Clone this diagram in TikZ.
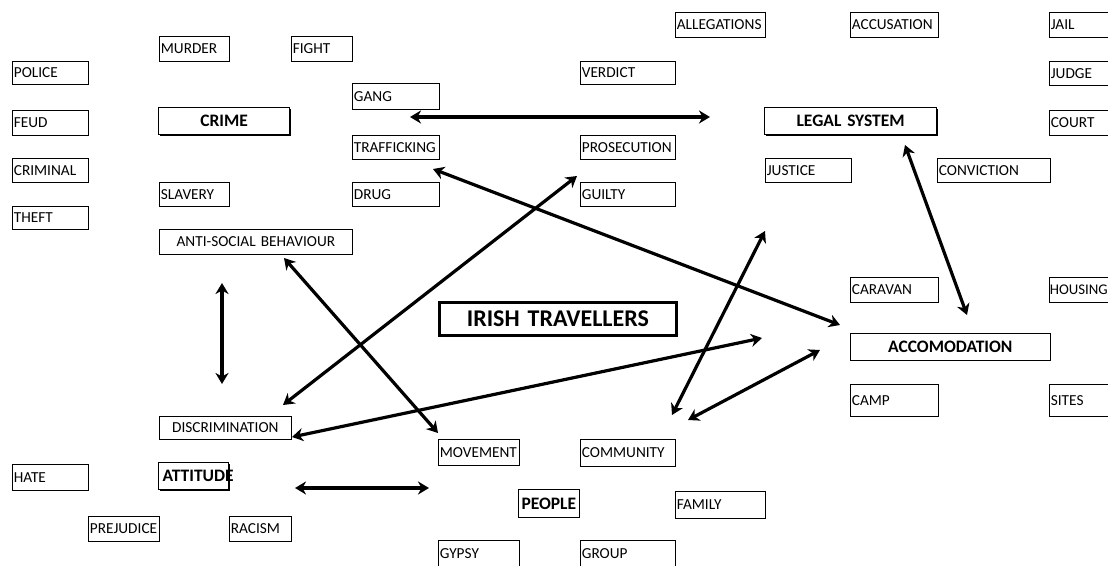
\documentclass[tikz,border=0pt]{standalone}
\usepackage{fontspec}
\setmainfont{Carlito}[WordSpace=0.7]
\usetikzlibrary{arrows.meta,shadows}

\begin{document}
\begin{tikzpicture}[x=1pt,y=-1pt,
    word/.style={draw, fill=white, line width=0.7pt, anchor=north west,
      inner xsep=1.5pt, inner ysep=0pt, align=left,
      font=\fontsize{15.3}{17}\selectfont,
      general shadow={fill=black, shadow xshift=0.9pt, shadow yshift=-0.9pt}},
    topic/.style={word, line width=1.2pt, align=center, font=\fontsize{17.5}{19}\selectfont\bfseries},
    link/.style={line width=3.2pt, <->, >={Stealth[length=11pt,width=13pt,inset=3.5pt]}}]
  \clip (0,0) rectangle (1108,565);
  \fill[white] (0,0) rectangle (1108,565);

  % crime
  \node[word, text width=73pt, minimum height=23pt] (police) at (12,61) {POLICE};
  \node[word, text width=73pt, minimum height=25pt] (feud) at (12,110) {FEUD};
  \node[word, text width=73pt, minimum height=24pt] (criminal) at (12,158) {CRIMINAL};
  \node[word, text width=73pt, minimum height=23pt] (theft) at (12,206) {THEFT};
  \node[word, text width=67pt, minimum height=25pt] (murder) at (159,36) {MURDER};
  \node[word, text width=58pt, minimum height=25pt] (fight) at (291,36) {FIGHT};
  \node[topic, text width=128pt, minimum height=27pt] (crime) at (158,107) {CRIME};
  \node[word, text width=67pt, minimum height=24pt] (slavery) at (159,182) {SLAVERY};
  \node[word, align=center, text width=190pt, minimum height=25pt] (antisocial) at (159,229) {ANTI-SOCIAL BEHAVIOUR};
  \node[word, text width=84pt, minimum height=26pt] (gang) at (352,83) {GANG};
  \node[word, text width=84pt, minimum height=24pt] (trafficking) at (352,135) {TRAFFICKING};
  \node[word, text width=84pt, minimum height=24pt] (drug) at (352,182) {DRUG};

  % legal system
  \node[word, text width=92pt, minimum height=23pt] (verdict) at (580,61) {VERDICT};
  \node[word, text width=92pt, minimum height=24pt] (prosecution) at (580,135) {PROSECUTION};
  \node[word, text width=92pt, minimum height=24pt] (guilty) at (580,182) {GUILTY};
  \node[word, text width=87pt, minimum height=25pt] (allegations) at (675,12) {ALLEGATIONS};
  \node[word, text width=85pt, minimum height=25pt] (accusation) at (850,12) {ACCUSATION};
  \node[word, text width=73pt, minimum height=25pt] (jail) at (1049,12) {JAIL};
  \node[word, text width=73pt, minimum height=24pt] (judge) at (1049,61) {JUDGE};
  \node[word, text width=73pt, minimum height=25pt] (court) at (1049,110) {COURT};
  \node[topic, text width=169pt, minimum height=27pt] (legal) at (764,107) {LEGAL SYSTEM};
  \node[word, text width=83pt, minimum height=24pt] (justice) at (765,158) {JUSTICE};
  \node[word, text width=110pt, minimum height=24pt] (conviction) at (937,158) {CONVICTION};

  % accomodation
  \node[word, text width=85pt, minimum height=25pt] (caravan) at (850,277) {CARAVAN};
  \node[word, inner xsep=0.5pt, text width=75pt, minimum height=25pt,
    font=\fontsize{14.8}{17}\selectfont] (housing) at (1049,277) {HOUSING};
  \node[topic, line width=0.7pt, text width=197pt, minimum height=27pt] (accomodation) at (850,333) {ACCOMODATION};
  \node[word, text width=85pt, minimum height=32pt] (camp) at (850,384) {CAMP};
  \node[word, text width=73pt, minimum height=32pt] (sites) at (1049,384) {SITES};

  \node[topic, line width=2.8pt, text width=234pt, minimum height=33pt,
    font=\fontsize{24}{27}\selectfont\bfseries] (irish) at (438,301) {IRISH TRAVELLERS};

  % attitude
  \node[word, align=center, text width=129pt, minimum height=23pt] (discrimination) at (159,416) {DISCRIMINATION};
  \node[word, text width=73pt, minimum height=26pt] (hate) at (12,464) {HATE};
  \node[topic, align=left, inner xsep=4pt, text width=62pt, minimum height=27pt] (attitude) at (158,462) {ATTITUDE};
  \node[word, text width=68pt, minimum height=25pt] (prejudice) at (88,516) {PREJUDICE};
  \node[word, text width=59pt, minimum height=25pt] (racism) at (229,516) {RACISM};

  % people
  \node[word, text width=78pt, minimum height=26pt] (movement) at (438,439) {MOVEMENT};
  \node[word, text width=92pt, minimum height=27pt] (community) at (580,439) {COMMUNITY};
  \node[topic, line width=0.7pt, text width=58pt, minimum height=28pt] (people) at (518,489) {PEOPLE};
  \node[word, text width=87pt, minimum height=27pt] (family) at (675,491) {FAMILY};
  \node[word, text width=78pt, minimum height=27pt] (gypsy) at (438,540) {GYPSY};
  \node[word, text width=92pt, minimum height=27pt] (group) at (580,540) {GROUP};

  % arrow ends
  \coordinate (gangend) at (410,117);
  \coordinate (legalend) at (710,117);
  \coordinate (trafend) at (433,169);
  \coordinate (accoend) at (840,325);
  \coordinate (prosend) at (577,176);
  \coordinate (discend) at (283,405);
  \coordinate (antiend) at (284,258);
  \coordinate (moveend) at (438,433);
  \coordinate (crimeend) at (222,283);
  \coordinate (attend) at (222,384);
  \coordinate (discright) at (292,437);
  \coordinate (accoleft) at (762,338);
  \coordinate (attright) at (295,488);
  \coordinate (peopleleft) at (429,488);
  \coordinate (justend) at (765,231);
  \coordinate (commend) at (672,415);
  \coordinate (commright) at (688,420);
  \coordinate (accolow) at (820,350);
  \coordinate (legallow) at (905,145);
  \coordinate (accotop) at (967,315);

  \draw[link] (gangend) -- (legalend);
  \draw[link] (trafend) -- (accoend);
  \draw[link] (prosend) -- (discend);
  \draw[link] (antiend) -- (moveend);
  \draw[link] (crimeend) -- (attend);
  \draw[link] (discright) -- (accoleft);
  \draw[link] (attright) -- (peopleleft);
  \draw[link] (justend) -- (commend);
  \draw[link] (commright) -- (accolow);
  \draw[link] (legallow) -- (accotop);
\end{tikzpicture}
\end{document}
